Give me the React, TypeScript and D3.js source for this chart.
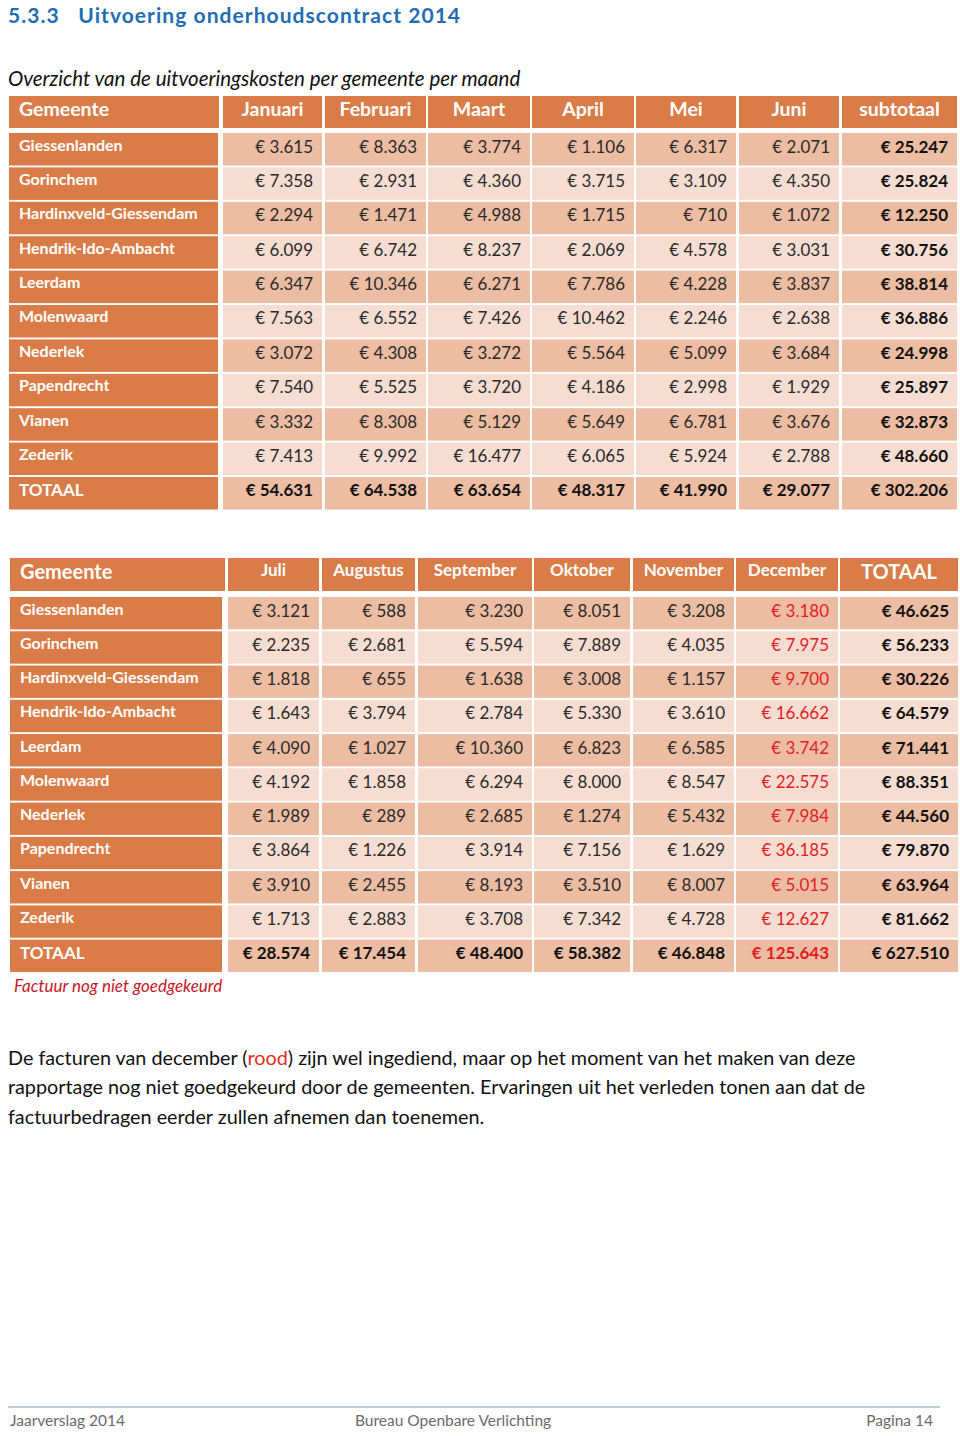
import React, { useEffect, useRef } from 'react';
import * as d3 from 'd3';

// data
const gemeenten = [
  'Giessenlanden',
  'Gorinchem',
  'Hardinxveld-Giessendam',
  'Hendrik-Ido-Ambacht',
  'Leerdam',
  'Molenwaard',
  'Nederlek',
  'Papendrecht',
  'Vianen',
  'Zederik',
];
const months1 = ['Januari', 'Februari', 'Maart', 'April', 'Mei', 'Juni'];
const months2 = ['Juli', 'Augustus', 'September', 'Oktober', 'November', 'December'];

const values1 = [
  [3615, 8363, 3774, 1106, 6317, 2071],
  [7358, 2931, 4360, 3715, 3109, 4350],
  [2294, 1471, 4988, 1715, 710, 1072],
  [6099, 6742, 8237, 2069, 4578, 3031],
  [6347, 10346, 6271, 7786, 4228, 3837],
  [7563, 6552, 7426, 10462, 2246, 2638],
  [3072, 4308, 3272, 5564, 5099, 3684],
  [7540, 5525, 3720, 4186, 2998, 1929],
  [3332, 8308, 5129, 5649, 6781, 3676],
  [7413, 9992, 16477, 6065, 5924, 2788],
];
const subtotaal = [25247, 25824, 12250, 30756, 38814, 36886, 24998, 25897, 32873, 48660];
const totaal1 = [54631, 64538, 63654, 48317, 41990, 29077];
const totaalSubtotaal = 302206;

const values2 = [
  [3121, 588, 3230, 8051, 3208, 3180],
  [2235, 2681, 5594, 7889, 4035, 7975],
  [1818, 655, 1638, 3008, 1157, 9700],
  [1643, 3794, 2784, 5330, 3610, 16662],
  [4090, 1027, 10360, 6823, 6585, 3742],
  [4192, 1858, 6294, 8000, 8547, 22575],
  [1989, 289, 2685, 1274, 5432, 7984],
  [3864, 1226, 3914, 7156, 1629, 36185],
  [3910, 2455, 8193, 3510, 8007, 5015],
  [1713, 2883, 3708, 7342, 4728, 12627],
];
const jaartotaal = [46625, 56233, 30226, 64579, 71441, 88351, 44560, 79870, 63964, 81662];
const totaal2 = [28574, 17454, 48400, 58382, 46848, 125643];
const totaalJaar = 627510;

// styles
const FONT = 'Lato, "Open Sans", sans-serif';
const ORANGE = '#D97C48';
const DARK = '#ECBDA3';
const LIGHT = '#F6DDD1';
const RED = '#E31B23';

const locale = d3.formatLocale({ decimal: ',', thousands: '.', grouping: [3], currency: ['€ ', ''] });
const euro = locale.format('$,d');

export default function App() {
  const ref = useRef<SVGSVGElement>(null);

  useEffect(() => {
    draw();
    // eslint-disable-next-line react-hooks/exhaustive-deps
  }, []);

  function drawTable(g, cfg) {
    const rows = [...gemeenten, 'TOTAAL'];
    const yScale = d3.scaleBand().domain(rows).range(cfg.rowRange).paddingInner(0.055);
    const bw = yScale.bandwidth();

    // header
    const [hy0, hy1] = cfg.headerRange;
    g.append('rect')
      .attr('x', cfg.headLabel[0])
      .attr('y', hy0)
      .attr('width', cfg.headLabel[1] - cfg.headLabel[0])
      .attr('height', hy1 - hy0)
      .attr('fill', ORANGE);
    g.append('text')
      .attr('x', cfg.headLabel[0] + 10)
      .attr('y', cfg.headBaseline)
      .attr('font-size', cfg.headSize)
      .attr('font-weight', 700)
      .attr('fill', '#fff')
      .text('Gemeente');
    const headers = [...cfg.months, cfg.lastHeader];
    headers.forEach((h, i) => {
      const [x0, x1] = cfg.cols[i];
      g.append('rect').attr('x', x0).attr('y', hy0).attr('width', x1 - x0).attr('height', hy1 - hy0).attr('fill', ORANGE);
      const last = i === headers.length - 1;
      g.append('text')
        .attr('x', (x0 + x1) / 2)
        .attr('y', last ? cfg.headBaseline : cfg.monthBaseline)
        .attr('text-anchor', 'middle')
        .attr('font-size', last ? cfg.headSize : cfg.monthSize)
        .attr('font-weight', 700)
        .attr('fill', '#fff')
        .text(h);
    });

    // rows
    rows.forEach((name, r) => {
      const y = yScale(name);
      const isTotal = r === rows.length - 1;
      g.append('rect')
        .attr('x', cfg.rowLabel[0])
        .attr('y', y)
        .attr('width', cfg.rowLabel[1] - cfg.rowLabel[0])
        .attr('height', bw)
        .attr('fill', ORANGE);
      g.append('text')
        .attr('x', cfg.rowLabel[0] + 10)
        .attr('y', y + (isTotal ? 19 : 17.5))
        .attr('font-size', isTotal ? 17 : 16)
        .attr('font-weight', 700)
        .attr('fill', '#fff')
        .text(name);
      const vals = isTotal ? [...cfg.totals, cfg.grand] : [...cfg.values[r], cfg.rowTotals[r]];
      vals.forEach((v, c) => {
        const [x0, x1] = cfg.cols[c];
        g.append('rect')
          .attr('x', x0)
          .attr('y', y)
          .attr('width', x1 - x0)
          .attr('height', bw)
          .attr('fill', r % 2 === 0 ? DARK : LIGHT);
        const bold = isTotal || c === vals.length - 1;
        const red = cfg.redCol === c;
        g.append('text')
          .attr('x', x1 - 9)
          .attr('y', y + 19.5)
          .attr('text-anchor', 'end')
          .attr('font-size', 17)
          .attr('font-weight', bold ? 700 : 400)
          .attr('fill', red ? RED : bold ? '#111' : '#2a2a2a')
          .text(euro(v));
      });
    });
  }

  function draw() {
    const svg = d3.select(ref.current);
    svg.selectAll('*').remove();
    const g = svg.append('g').attr('font-family', FONT);

    g.append('text')
      .attr('x', 8)
      .attr('y', 23)
      .attr('font-size', 21)
      .attr('font-weight', 700)
      .attr('letter-spacing', 1.05)
      .attr('fill', '#1F6DB3')
      .attr('xml:space', 'preserve')
      .text('5.3.3   Uitvoering onderhoudscontract 2014');

    g.append('text')
      .attr('x', 8)
      .attr('y', 86)
      .attr('font-size', 20.5)
      .attr('font-style', 'italic')
      .attr('fill', '#111')
      .text('Overzicht van de uitvoeringskosten per gemeente per maand');

    drawTable(g, {
      months: months1,
      lastHeader: 'subtotaal',
      values: values1,
      rowTotals: subtotaal,
      totals: totaal1,
      grand: totaalSubtotaal,
      redCol: -1,
      headerRange: [96, 128],
      rowRange: [133, 509.5],
      headLabel: [9, 219],
      rowLabel: [9, 218],
      cols: [[223, 322], [325, 426], [428, 530], [532, 634], [636, 736], [739, 839], [842, 957]],
      headBaseline: 116,
      monthBaseline: 116,
      headSize: 19.5,
      monthSize: 19.5,
    });

    drawTable(g, {
      months: months2,
      lastHeader: 'TOTAAL',
      values: values2,
      rowTotals: jaartotaal,
      totals: totaal2,
      grand: totaalJaar,
      redCol: 5,
      headerRange: [558, 591],
      rowRange: [597, 972],
      headLabel: [10, 225],
      rowLabel: [10, 222],
      cols: [[228, 319], [322, 415], [418, 532], [534, 630], [633, 734], [736, 838], [840, 958]],
      headBaseline: 579,
      monthBaseline: 576,
      headSize: 20,
      monthSize: 17,
    });

    g.append('text')
      .attr('x', 14)
      .attr('y', 992)
      .attr('font-size', 17)
      .attr('font-style', 'italic')
      .attr('fill', '#C8161E')
      .text('Factuur nog niet goedgekeurd');

    const para = g.append('g').attr('font-size', 19.8).attr('fill', '#111');
    const l1 = para.append('text').attr('x', 8).attr('y', 1065);
    l1.append('tspan').text('De facturen van december (');
    l1.append('tspan').attr('fill', '#E0301E').text('rood');
    l1.append('tspan').text(') zijn wel ingediend, maar op het moment van het maken van deze');
    para.append('text').attr('x', 8).attr('y', 1094)
      .text('rapportage nog niet goedgekeurd door de gemeenten. Ervaringen uit het verleden tonen aan dat de');
    para.append('text').attr('x', 8).attr('y', 1124)
      .text('factuurbedragen eerder zullen afnemen dan toenemen.');

    // footer
    g.append('line').attr('x1', 8).attr('x2', 940).attr('y1', 1407).attr('y2', 1407)
      .attr('stroke', '#A8BCCF').attr('stroke-width', 1.5);
    const foot = g.append('g').attr('font-size', 15.5).attr('fill', '#6a6a6a');
    foot.append('text').attr('x', 10).attr('y', 1426).text('Jaarverslag 2014');
    foot.append('text').attr('x', 355).attr('y', 1426).text('Bureau Openbare Verlichting');
    foot.append('text').attr('x', 933).attr('y', 1426).attr('text-anchor', 'end').text('Pagina 14');
  }

  return (
    <svg
      ref={ref}
      width={960}
      height={1436}
      style={{ position: 'absolute', left: 0, top: 0, background: '#fff' }}
    />
  );
}
